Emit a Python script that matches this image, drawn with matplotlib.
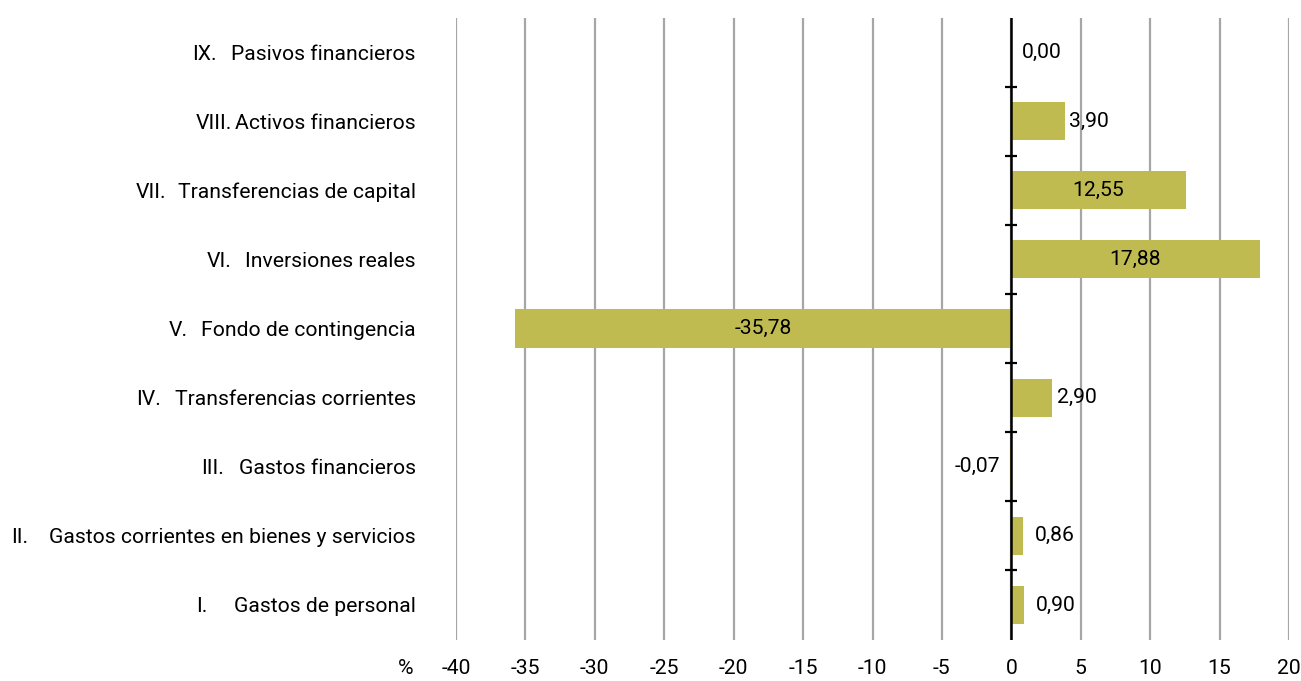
import matplotlib
matplotlib.use("Agg")
import matplotlib.pyplot as plt

numerals = ["I.", "II.", "III.", "IV.", "V.", "VI.", "VII.", "VIII.", "IX."]
categories = [
    "Gastos de personal",
    "Gastos corrientes en bienes y servicios",
    "Gastos financieros",
    "Transferencias corrientes",
    "Fondo de contingencia",
    "Inversiones reales",
    "Transferencias de capital",
    "Activos financieros",
    "Pasivos financieros",
]
values = [0.90, 0.86, -0.07, 2.90, -35.78, 17.88, 12.55, 3.90, 0.00]
value_labels = ["0,90", "0,86", "-0,07", "2,90", "-35,78", "17,88", "12,55", "3,90", "0,00"]
xticks = [-40, -35, -30, -25, -20, -15, -10, -5, 0, 5, 10, 15, 20]

plt.rcParams["font.family"] = ["Roboto", "DejaVu Sans"]
FS = 15.2

fig = plt.figure(figsize=(13.01, 6.81), dpi=100)
ax = fig.add_axes([456/1301, 1-639.5/681, (1289-456)/1301, (639.5-17.5)/681])

bar_color = "#BFBB50"
ypos = list(range(len(categories)))
ax.barh(ypos, values, height=0.55, color=bar_color, zorder=2)

ax.set_xlim(-40, 20)
ax.set_ylim(-0.5, len(categories) - 0.5)
ax.set_xticks(xticks)
ax.set_xticklabels([str(t) for t in xticks], fontsize=FS)
ax.set_yticks(ypos)
ax.set_yticklabels(categories, fontsize=FS)
ax.tick_params(axis="y", length=0, pad=29)
ax.tick_params(axis="x", length=0, pad=14)
for s in ax.spines.values():
    s.set_visible(False)
ax.grid(axis="x", color="#A6A6A6", linewidth=1.6, zorder=0)
ax.axvline(0, color="black", linewidth=1.8, zorder=3)
bounds = [i + 0.5 for i in range(len(categories) - 1)]
ax.plot([0]*len(bounds), bounds, linestyle="none", marker="_", markersize=9,
        markeredgewidth=1.6, color="black", zorder=4, clip_on=False)

offsets_px = [12, 12, 10, 5, 0, 0, 0, 4, 11]
for y, v, lab, off in zip(ypos, values, value_labels, offsets_px):
    if abs(v) > 10:
        ax.text(v/2, y, lab, ha="center", va="center", fontsize=FS, zorder=5)
    elif v < 0:
        ax.annotate(lab, (v, y), xytext=(-off*0.72, 0), textcoords="offset points",
                    ha="right", va="center", fontsize=FS, zorder=5)
    else:
        ax.annotate(lab, (v, y), xytext=(off*0.72, 0), textcoords="offset points",
                    ha="left", va="center", fontsize=FS, zorder=5)

fig.text(406/1301, 1-668/681, "%", ha="center", va="center", fontsize=FS)

gaps_px = [38, 38, 38, 38, 32, 39, 42, 39, 39]
fig.canvas.draw()
renderer = fig.canvas.get_renderer()
for lab, num, y, gap in zip(ax.get_yticklabels(), numerals, ypos, gaps_px):
    bb = lab.get_window_extent(renderer)
    x0 = bb.x0 - gap
    yc = ax.transData.transform((0, y))[1]
    fig.text(x0/fig.bbox.width, yc/fig.bbox.height, num, ha="left", va="center_baseline",
             fontsize=FS)

fig.savefig("out.png", dpi=100)
